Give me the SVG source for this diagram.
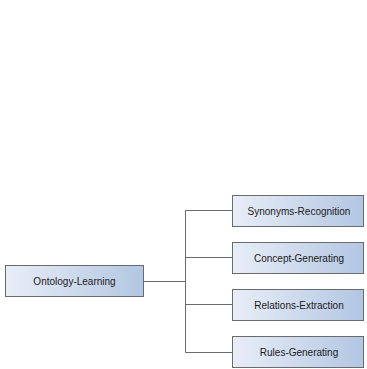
<svg xmlns="http://www.w3.org/2000/svg" width="367" height="369" viewBox="0 0 367 369">
  <defs>
    <linearGradient id="boxFill" x1="0" y1="0" x2="1" y2="0">
      <stop offset="0" stop-color="#e8eef7"/>
      <stop offset="1" stop-color="#b3c6e2"/>
    </linearGradient>
  </defs>
  <style>
    .box { fill: url(#boxFill); stroke: #6b6b6b; stroke-width: 1; }
    .label { font-family: "Liberation Sans", Arial, sans-serif; font-size: 10px; fill: #1a1a1a; text-anchor: middle; dominant-baseline: central; }
    .link { fill: none; stroke: #6b6b6b; stroke-width: 1; }
  </style>
  <rect width="367" height="369" fill="#ffffff"/>

  <g id="connectors">
    <path class="link" d="M143.5 281.5 H185.5"/>
    <path class="link" d="M185.5 210.5 V352.5"/>
    <path class="link" d="M185.5 210.5 H232.5"/>
    <path class="link" d="M185.5 257.5 H232.5"/>
    <path class="link" d="M185.5 304.5 H232.5"/>
    <path class="link" d="M185.5 352.5 H232.5"/>
  </g>

  <g id="ontology-learning">
    <rect class="box" x="5.5" y="265.5" width="138" height="31"/>
    <text class="label" x="74.5" y="281">Ontology-Learning</text>
  </g>

  <g id="synonyms-recognition">
    <rect class="box" x="232.5" y="195.5" width="131" height="31"/>
    <text class="label" x="299" y="211">Synonyms-Recognition</text>
  </g>

  <g id="concept-generating">
    <rect class="box" x="232.5" y="242.5" width="131" height="31"/>
    <text class="label" x="299" y="258">Concept-Generating</text>
  </g>

  <g id="relations-extraction">
    <rect class="box" x="232.5" y="289.5" width="131" height="31"/>
    <text class="label" x="299" y="305">Relations-Extraction</text>
  </g>

  <g id="rules-generating">
    <rect class="box" x="232.5" y="336.5" width="131" height="31"/>
    <text class="label" x="299" y="352">Rules-Generating</text>
  </g>
</svg>
